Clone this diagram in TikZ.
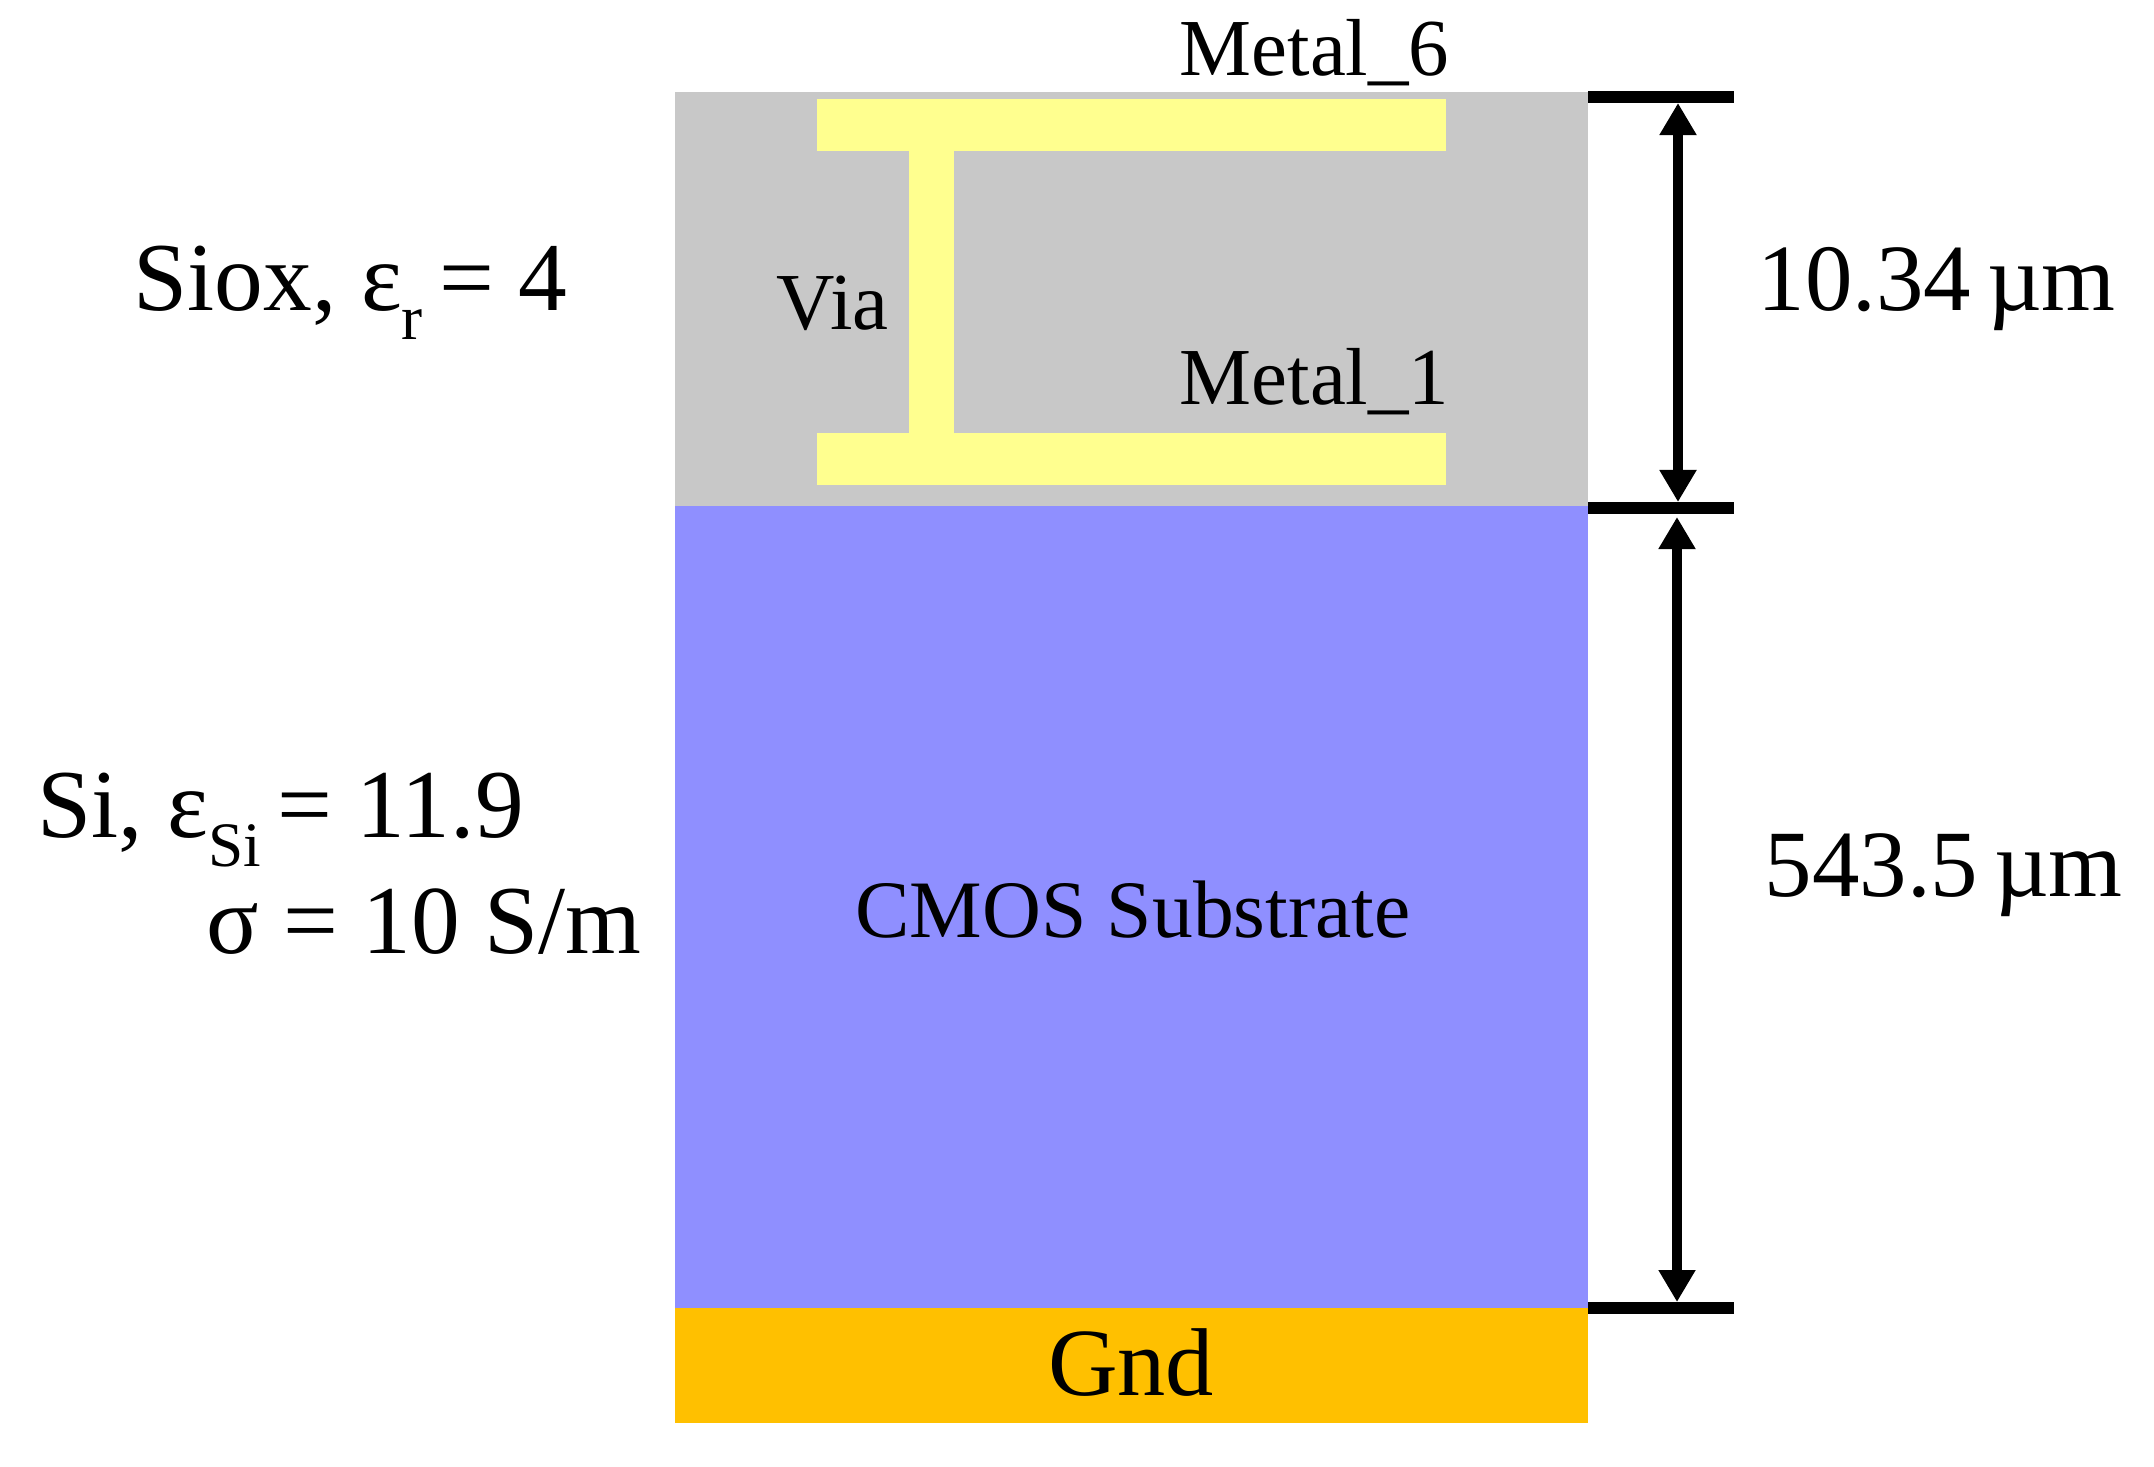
\documentclass[tikz,border=0pt]{standalone}
\usepackage{fontspec}
\setmainfont{Liberation Serif}
\usepackage{tikz}
\usetikzlibrary{arrows.meta}
\definecolor{oxidegray}{HTML}{C8C8C8}
\definecolor{metalyellow}{HTML}{FFFF8F}
\definecolor{substrateblue}{HTML}{8F8FFF}
\definecolor{gndgold}{HTML}{FFC000}
\newcommand{\lowidx}[1]{\raisebox{-0.3em}{\fontsize{18}{18}\selectfont #1}}

\begin{document}
\begin{tikzpicture}[x=0.01cm,y=-0.01cm]
\tikzset{layer/.style = {shape=rectangle,inner sep=0pt,outer sep=0pt}}
\tikzset{label/.style = {anchor=base west,inner sep=0pt,font=\fontsize{27.7}{27.7}\selectfont}}
\tikzset{dim/.style = {anchor=base west,inner sep=0pt,font=\fontsize{27}{27}\selectfont}}
\tikzset{small/.style = {anchor=base west,inner sep=0pt,font=\fontsize{23}{23}\selectfont}}
\tikzset{edge/.style = {<->,line width=0.1cm,>={Triangle[length=0.32cm,width=0.35cm]}}}
\tikzset{tick/.style = {line width=0.12cm}}
\useasboundingbox (0,0) rectangle (2154,1466);
% layers
\node[layer,fill=oxidegray,minimum width=9.13cm,minimum height=4.14cm] (oxide) at (1131.5,299) {};
\node[layer,fill=substrateblue,minimum width=9.13cm,minimum height=8.02cm] (substrate) at (1131.5,907) {};
\node[layer,fill=gndgold,minimum width=9.13cm,minimum height=1.15cm] (gnd) at (1131.5,1365.5) {};
% metal
\node[layer,fill=metalyellow,minimum width=6.29cm,minimum height=0.52cm] (metaltop) at (1131.5,125) {};
\node[layer,fill=metalyellow,minimum width=6.29cm,minimum height=0.52cm] (metalbot) at (1131.5,459) {};
\node[layer,fill=metalyellow,minimum width=0.455cm,minimum height=2.84cm] (via) at (931.7,292) {};
% ticks and arrows
\coordinate (tickA) at (1588,97);
\coordinate (tickAend) at (1734,97);
\coordinate (tickB) at (1588,508);
\coordinate (tickBend) at (1734,508);
\coordinate (tickC) at (1588,1308);
\coordinate (tickCend) at (1734,1308);
\draw[tick] (tickA) -- (tickAend);
\draw[tick] (tickB) -- (tickBend);
\draw[tick] (tickC) -- (tickCend);
\coordinate (arrA) at (1678,103);
\coordinate (arrB) at (1678,502);
\coordinate (arrC) at (1677,517);
\coordinate (arrD) at (1677,1302);
\draw[edge] (arrA) -- (arrB);
\draw[edge] (arrC) -- (arrD);
% labels
\node[small] (mtop) at (1179,75) {Metal\_6};
\node[small] (mbot) at (1179,404) {Metal\_1};
\node[small] (vialabel) at (776,329) {Via};
\node[label] (siox) at (133,310) {Siox, ε\lowidx{r}\,= 4};
\node[label] (si) at (37,837) {Si, ε\lowidx{Si}\,= 11.9};
\node[label] (sigma) at (206,953) {σ = 10 S/m};
\node[dim] (dimA) at (1757,310) {10.34\,µm};
\node[dim] (dimB) at (1764,896) {543.5\,µm};
\node[small,font=\fontsize{23.2}{23.2}\selectfont,anchor=base] (cmos) at (1133,937) {CMOS Substrate};
\node[label,font=\fontsize{27.4}{27.4}\selectfont,anchor=base] (gndlabel) at (1131,1395) {Gnd};
\end{tikzpicture}
\end{document}
